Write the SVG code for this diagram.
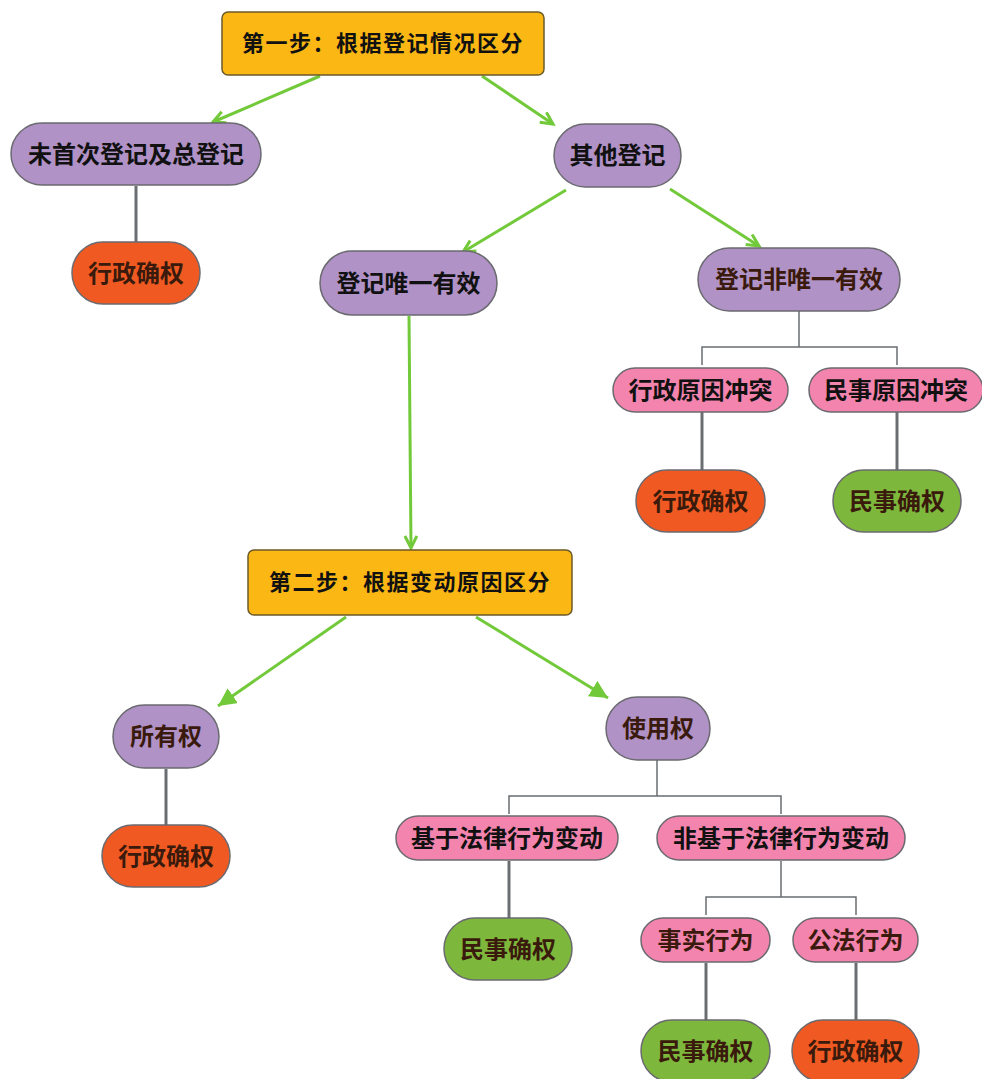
<svg xmlns="http://www.w3.org/2000/svg" width="982" height="1079" viewBox="0 0 982 1079">
<style>
text{font-family:"Noto Sans CJK SC","Noto Sans",sans-serif;text-anchor:middle;dominant-baseline:central;font-size:24px;fill:#111;transform:translateY(-2px)}
.step rect{fill:#FBB714;stroke:#6b5a2a;stroke-width:1.5}
.step text{font-weight:bold;font-size:22px;letter-spacing:1.5px}
.purple rect{fill:#B092C6;stroke:#6a6a70;stroke-width:1.5}
.pink rect{fill:#F384AE;stroke:#6a6a70;stroke-width:1.5}
.pink text{font-weight:bold}
.orange rect{fill:#F05A22;stroke:#6a6a70;stroke-width:1.5}
.green rect{fill:#7DB83D;stroke:#6a6a70;stroke-width:1.5}
.dark text{fill:#3a1a0c;font-weight:bold}
.arrow{stroke:#72C93A;stroke-width:3;fill:none}
.tree{stroke:#6a6e72;stroke-width:3;fill:none}
.thin{stroke:#6a6e72;stroke-width:1.5;fill:none}
</style>
<defs>
<marker id="open" markerUnits="userSpaceOnUse" markerWidth="16" markerHeight="16" refX="13" refY="7" orient="auto">
<path d="M1,1 L13,7 L1,13" fill="none" stroke="#72C93A" stroke-width="3"/>
</marker>
<marker id="solid" markerUnits="userSpaceOnUse" markerWidth="20" markerHeight="20" refX="18" refY="9" orient="auto">
<path d="M0,0 L18,9 L0,18 z" fill="#72C93A"/>
</marker>
</defs>
<g id="connectors">
<line class="arrow" x1="320" y1="76" x2="213" y2="122" marker-end="url(#open)"/>
<line class="arrow" x1="482" y1="76" x2="553" y2="124" marker-end="url(#open)"/>
<line class="arrow" x1="566" y1="190" x2="463" y2="252" marker-end="url(#open)"/>
<line class="arrow" x1="670" y1="189" x2="759" y2="246" marker-end="url(#open)"/>
<line class="arrow" x1="409" y1="316" x2="411" y2="548" marker-end="url(#open)"/>
<line class="arrow" x1="346" y1="617" x2="218" y2="706" marker-end="url(#solid)"/>
<line class="arrow" x1="476" y1="617" x2="608" y2="698" marker-end="url(#solid)"/>
<line class="tree" x1="136" y1="186" x2="136" y2="242"/>
<path class="thin" d="M799,311 V347 M702,365 V347 H897 V365"/>
<line class="tree" x1="702" y1="412" x2="702" y2="470"/>
<line class="tree" x1="897" y1="412" x2="897" y2="470"/>
<line class="tree" x1="166" y1="769" x2="166" y2="825"/>
<path class="thin" d="M657,760 V796 M509,814 V796 H781 V814"/>
<line class="tree" x1="509" y1="861" x2="509" y2="918"/>
<path class="thin" d="M781,861 V897 M706,915 V897 H856 V915"/>
<line class="tree" x1="706" y1="963" x2="706" y2="1020"/>
<line class="tree" x1="856" y1="963" x2="856" y2="1020"/>
</g>
<g id="step1" class="step"><rect x="222" y="12" width="322" height="63" rx="6"/><text x="383" y="43">第一步：根据登记情况区分</text></g>
<g id="n_weishouci" class="purple"><rect x="11" y="123" width="250" height="62" rx="31"/><text x="136" y="154" font-weight="bold">未首次登记及总登记</text></g>
<g id="n_qita" class="purple"><rect x="554" y="124" width="127" height="63" rx="31.5"/><text x="617.5" y="155.5" font-weight="bold">其他登记</text></g>
<g id="n_xz1" class="orange dark"><rect x="72" y="242" width="128" height="62" rx="31"/><text x="136" y="273">行政确权</text></g>
<g id="n_weiyi" class="purple"><rect x="320" y="251" width="177" height="64" rx="32"/><text x="408.5" y="283" font-weight="bold">登记唯一有效</text></g>
<g id="n_feiweiyi" class="purple dark"><rect x="698" y="248" width="202" height="63" rx="31.5"/><text x="799" y="279.5">登记非唯一有效</text></g>
<g id="n_xzyy" class="pink"><rect x="613" y="368" width="175" height="44" rx="22"/><text x="700.5" y="390">行政原因冲突</text></g>
<g id="n_msyy" class="pink"><rect x="809" y="368" width="174" height="44" rx="22"/><text x="896" y="390">民事原因冲突</text></g>
<g id="n_xz2" class="orange dark"><rect x="636" y="470" width="129" height="62" rx="31"/><text x="700.5" y="501">行政确权</text></g>
<g id="n_ms1" class="green dark"><rect x="833" y="470" width="128" height="62" rx="31"/><text x="897" y="501">民事确权</text></g>
<g id="step2" class="step"><rect x="248" y="550" width="324" height="65" rx="6"/><text x="410" y="582">第二步：根据变动原因区分</text></g>
<g id="n_suoyou" class="purple dark"><rect x="113" y="705" width="106" height="63" rx="31.5"/><text x="166" y="736.5">所有权</text></g>
<g id="n_xz3" class="orange dark"><rect x="102" y="825" width="128" height="62" rx="31"/><text x="166" y="856">行政确权</text></g>
<g id="n_shiyong" class="purple dark"><rect x="606" y="697" width="104" height="63" rx="31.5"/><text x="658" y="728.5">使用权</text></g>
<g id="n_jiyu" class="pink"><rect x="396" y="816" width="222" height="44" rx="22"/><text x="507" y="838">基于法律行为变动</text></g>
<g id="n_feijiyu" class="pink"><rect x="657" y="816" width="248" height="44" rx="22"/><text x="781" y="838">非基于法律行为变动</text></g>
<g id="n_ms2" class="green dark"><rect x="444" y="918" width="128" height="62" rx="31"/><text x="508" y="949">民事确权</text></g>
<g id="n_shishi" class="pink dark"><rect x="641" y="918" width="129" height="44" rx="22"/><text x="705.5" y="940">事实行为</text></g>
<g id="n_gongfa" class="pink dark"><rect x="793" y="918" width="125" height="44" rx="22"/><text x="855.5" y="940">公法行为</text></g>
<g id="n_ms3" class="green dark"><rect x="641" y="1020" width="129" height="62" rx="31"/><text x="705.5" y="1051">民事确权</text></g>
<g id="n_xz4" class="orange dark"><rect x="792" y="1020" width="127" height="62" rx="31"/><text x="855.5" y="1051">行政确权</text></g>
</svg>
